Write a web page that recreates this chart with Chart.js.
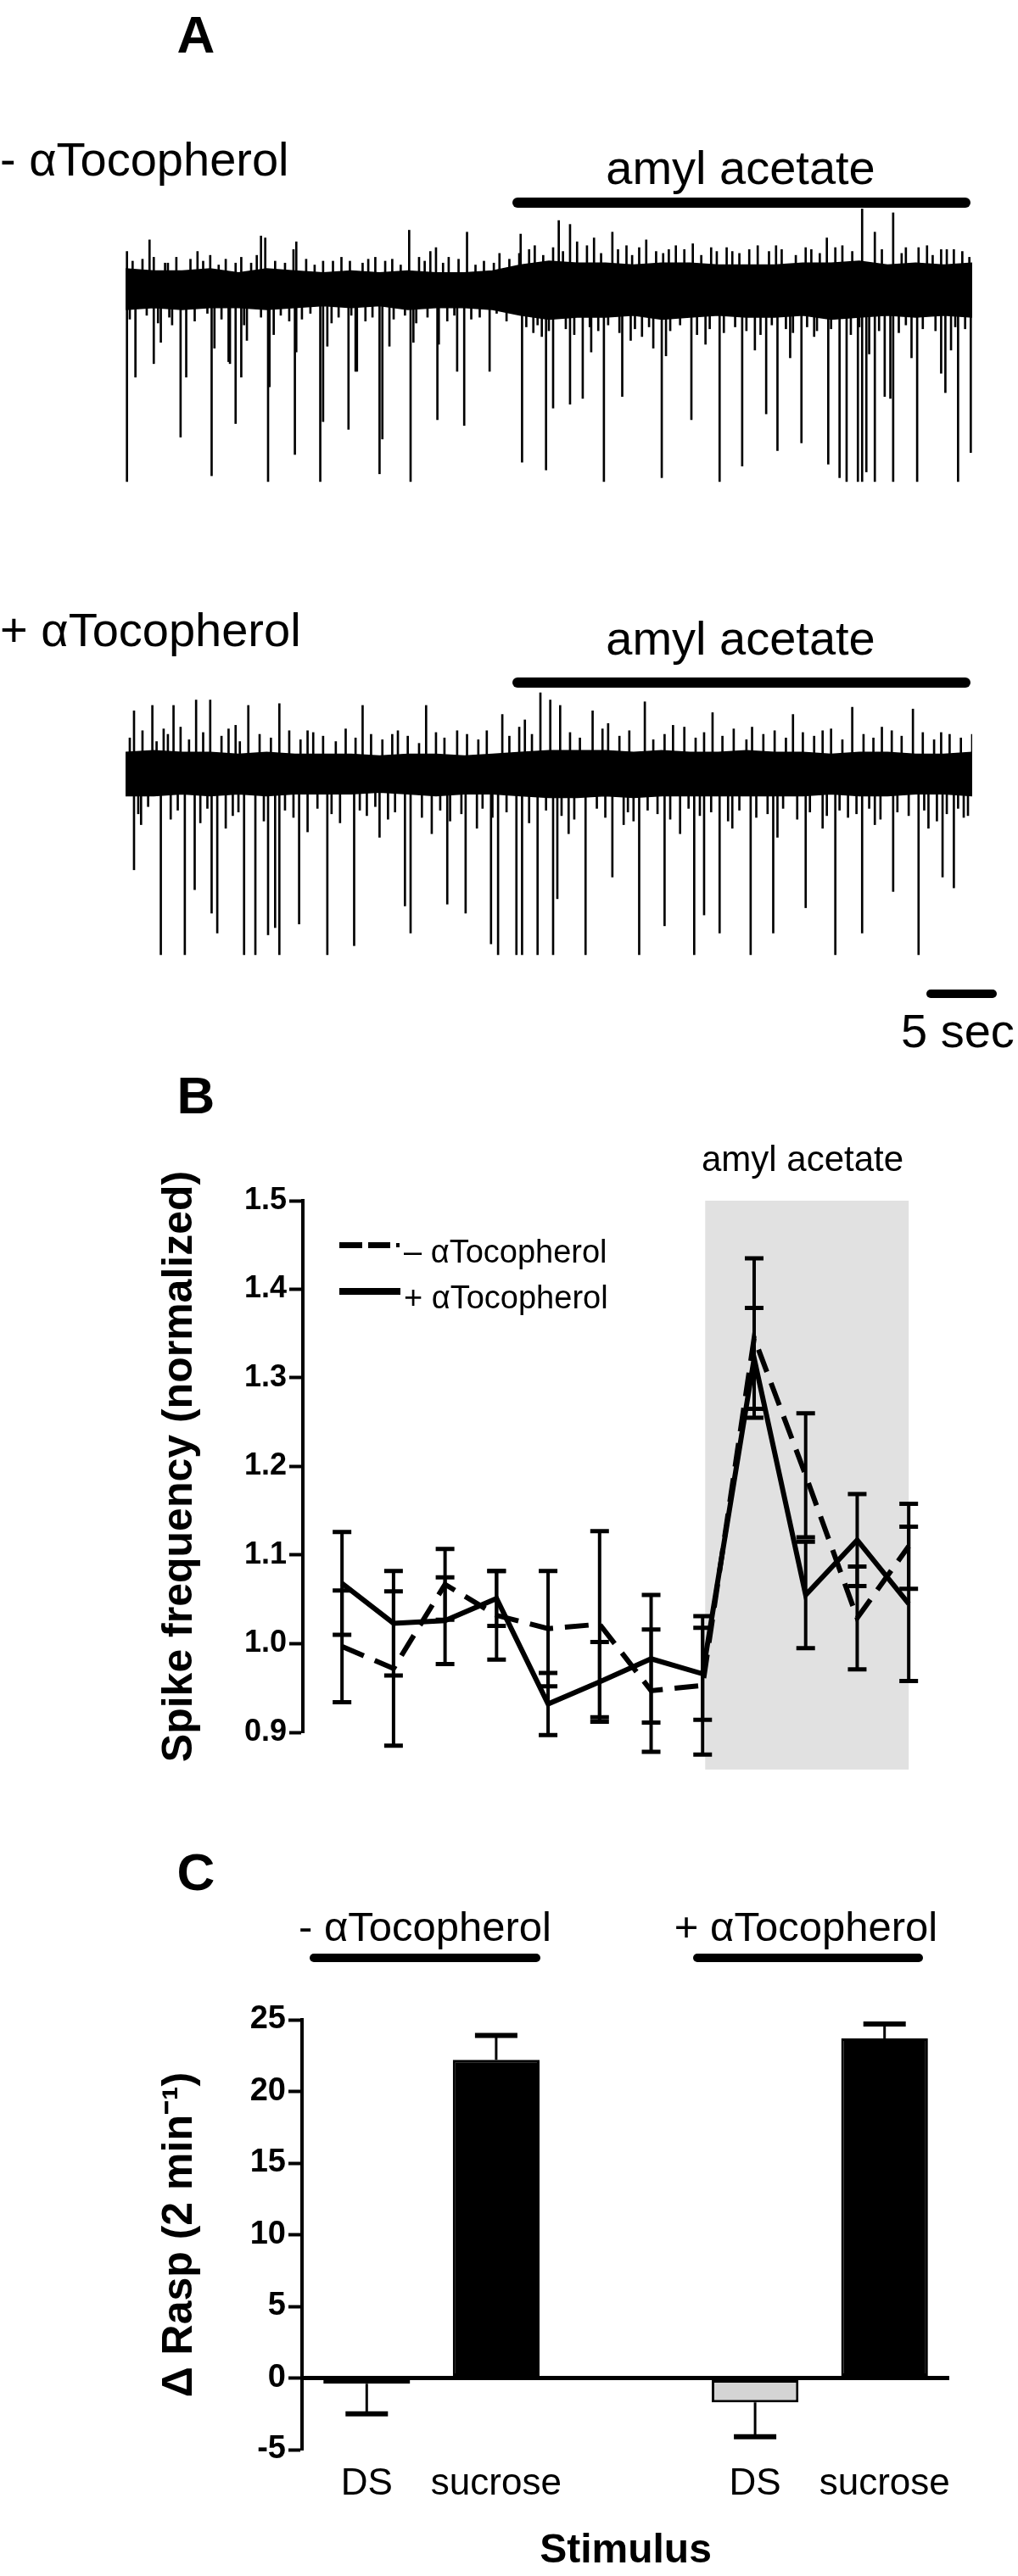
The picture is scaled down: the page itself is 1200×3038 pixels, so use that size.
<!DOCTYPE html>
<html>
<head>
<meta charset="utf-8">
<script src="https://cdn.jsdelivr.net/npm/chart.js@4.4.1/dist/chart.umd.min.js"></script>
<style>
    html, body { margin: 0; padding: 0; background: #fff; }
    body { width: 1200px; height: 3038px; position: relative; overflow: hidden;
           font-family: "Liberation Sans", Arial, Helvetica, sans-serif; color: #000; }
    .box { position: absolute; }
    .txt { position: absolute; white-space: nowrap; line-height: 1; }
    .c { transform: translate(-50%, -50%); }
    .l { transform: translateY(-50%); }
    .bar { position: absolute; background: #000; border-radius: 6px; }
    .letter { font-weight: bold; font-size: 62px; }
</style>
</head>
<body>

<div class="box" style="left:148px; top:230px; width:998px; height:350px;"><canvas id="trace1" width="998" height="350"></canvas></div>
<div class="box" style="left:148px; top:800px; width:998px; height:350px;"><canvas id="trace2" width="998" height="350"></canvas></div>
<div class="box" style="left:170px; top:1380px; width:940px; height:720px;"><canvas id="chartB" width="940" height="720"></canvas></div>
<div class="box" style="left:170px; top:2340px; width:970px; height:698px;"><canvas id="chartC" width="970" height="698"></canvas></div>

<!-- panel A -->
<div class="txt c letter" style="left:231px; top:41px;">A</div>
<div class="txt l" style="left:0px; top:188px; font-size:56px;">- αTocopherol</div>
<div class="txt c" style="left:873px; top:198px; font-size:56px;">amyl acetate</div>
<div class="bar" style="left:604px; top:233px; width:540px; height:12px;"></div>
<div class="txt l" style="left:0px; top:743px; font-size:56px;">+ αTocopherol</div>
<div class="txt c" style="left:873px; top:753px; font-size:56px;">amyl acetate</div>
<div class="bar" style="left:604px; top:799px; width:540px; height:12px;"></div>
<div class="bar" style="left:1092px; top:1167px; width:83px; height:10px;"></div>
<div class="txt l" style="left:1062px; top:1216px; font-size:56px;">5 sec</div>

<!-- panel B -->
<div class="txt c letter" style="left:231px; top:1292px;">B</div>
<div class="txt c" style="left:946px; top:1367px; font-size:42px;">amyl acetate</div>
<div class="box" style="left:400px; top:1465px; width:27px; height:7px; background:#000;"></div>
<div class="box" style="left:434px; top:1465px; width:26px; height:7px; background:#000;"></div>
<div class="box" style="left:467px; top:1466px; width:4px; height:5px; background:#000;"></div>
<div class="txt l" style="left:476px; top:1476px; font-size:38px;">– αTocopherol</div>
<div class="box" style="left:400px; top:1519px; width:72px; height:8px; background:#000;"></div>
<div class="txt l" style="left:476px; top:1530px; font-size:38px;">+ αTocopherol</div>

<!-- panel C -->
<div class="txt c letter" style="left:231px; top:2208px;">C</div>
<div class="txt c" style="left:501px; top:2272px; font-size:49px;">- αTocopherol</div>
<div class="bar" style="left:365px; top:2304px; width:272px; height:10px;"></div>
<div class="txt c" style="left:950px; top:2272px; font-size:49px;">+ αTocopherol</div>
<div class="bar" style="left:817px; top:2304px; width:271px; height:10px;"></div>

<script>
// ---------- Panel A: extracellular traces (time in s, amplitude relative to baseline) ----------
const envTimes = [0, 2, 4, 6, 8, 10, 12, 14, 16, 18, 20, 22, 24, 26, 28, 30, 32, 34, 36, 38, 40, 42, 44, 46, 48, 50, 52, 54, 56, 58, 60];

// - alpha-tocopherol trace
const upper1 = [10, 9, 9, 10, 8, 10, 9, 8, 9, 8, 9, 8, 8, 9, 12, 14, 13, 13, 12, 13, 13, 12, 12, 12, 13, 13, 14, 12, 13, 12, 13];
const lower1 = [-11, -10, -11, -10, -10, -11, -10, -9, -10, -9, -11, -10, -10, -11, -14, -16, -15, -15, -14, -16, -15, -14, -15, -15, -14, -16, -15, -14, -15, -14, -15];
const downT1 = [0.1, 0.7, 2.0, 3.9, 4.3, 6.1, 7.4, 7.8, 8.2, 10.1, 12.0, 13.8, 14.0, 15.8, 16.4, 18.0, 18.2, 20.2, 22.1, 24.0, 25.8, 28.1, 29.8, 30.3, 31.5, 32.4, 33.9, 35.2, 38.0, 40.1, 42.1, 43.7, 45.4, 46.2, 47.9, 49.8, 50.6, 51.1, 51.9, 52.2, 52.5, 53.1, 53.8, 54.2, 54.4, 56.1, 57.8, 58.1, 59.0, 59.9];
const downD1 = [100, 46, 39, 77, 46, 97, 39, 70, 46, 100, 86, 100, 69, 73, 43, 96, 78, 100, 68, 71, 43, 90, 94, 62, 60, 57, 100, 56, 98, 68, 100, 92, 65, 84, 80, 91, 98, 100, 100, 100, 95, 100, 56, 57, 100, 100, 44, 54, 100, 85];
const minorDownT1 = [2.5, 3.3, 6.3, 7.3, 8.6, 10.2, 10.5, 12.1, 14.3, 16.3, 18.7, 20.4, 22.2, 23.5, 29.5, 33.0, 35.8, 37.4, 38.3, 41.1, 44.6, 47.1, 48.8, 52.7, 55.7, 58.5];
const minorDownD1 = [28, 19, 31, 38, 27, 51, 24, 33, 30, 43, 30, 28, 29, 43, 25, 33, 27, 31, 35, 29, 32, 36, 25, 34, 36, 32];
const upT1 = [0.1, 1.7, 2.0, 3.0, 4.6, 5.1, 6.0, 7.8, 8.2, 9.6, 9.9, 11.9, 12.1, 14.0, 15.9, 17.7, 18.9, 20.1, 21.6, 22.0, 22.9, 24.2, 28.0, 30.7, 31.5, 33.2, 34.5, 36.9, 40.2, 49.7, 52.2, 53.1, 54.4, 57.8, 59.8];
const upH1 = [19, 25, 16, 13, 15, 19, 17, 13, 16, 27, 26, 20, 24, 14, 14, 16, 15, 30, 19, 21, 16, 29, 28, 35, 33, 26, 29, 25, 23, 26, 41, 29, 39, 20, 16];
const minorUpT1 = [26.5, 29.0, 32.0, 35.5, 38.5, 41.5, 43.0, 44.8, 46.5, 48.2, 50.8, 55.3, 56.8, 58.7];
const minorUpH1 = [18, 22, 24, 22, 20, 21, 19, 22, 20, 21, 22, 21, 22, 20];
const fuzzUpT1 = [0.5, 1.2, 2.8, 3.6, 5.5, 6.6, 7.1, 8.9, 9.3, 10.6, 11.3, 12.8, 13.4, 14.7, 15.3, 16.8, 17.2, 18.4, 19.5, 20.8, 21.2, 22.5, 23.6, 24.8, 25.4, 26.1, 27.2,
    27.9, 28.6, 29.6, 30.3, 31.0, 32.7, 33.7, 34.9, 35.9, 36.4, 37.6, 38.1, 39.0, 39.6, 40.8, 41.9, 42.6, 43.5, 44.2, 45.6, 46.1, 47.5, 48.6, 49.2, 50.3, 51.5, 53.6, 55.0, 56.2, 57.2, 58.2, 59.3];
const fuzzUpH1 = [14, 15, 13, 16, 14, 12, 15, 13, 17, 14, 13, 15, 12, 14, 16, 13, 15, 14, 12, 16, 14, 13, 15, 12, 14, 13, 15,
    18, 20, 17, 21, 19, 22, 18, 20, 17, 21, 19, 18, 22, 20, 17, 19, 21, 18, 20, 19, 22, 17, 20, 18, 21, 19, 20, 18, 21, 17, 20, 19];
const fuzzDownT1 = [0.3, 1.5, 2.3, 3.1, 4.9, 5.8, 6.8, 8.4, 9.6, 11.0, 11.6, 12.5, 13.1, 14.6, 15.1, 16.0, 17.0, 17.5, 19.0, 19.8, 20.6, 21.4, 22.8, 23.3, 24.5, 25.1, 26.3, 27.0,
    28.4, 28.9, 29.2, 30.0, 31.2, 31.8, 32.9, 33.5, 34.2, 35.0, 36.1, 36.6, 37.1, 38.6, 39.3, 40.5, 41.4, 42.4, 43.2, 44.0, 45.0, 45.8, 46.8, 47.3, 48.3, 49.0, 50.0, 51.4, 52.0, 53.4, 54.8, 55.3, 56.5, 57.4, 58.8, 59.5];
const fuzzDownD1 = [16, 14, 18, 15, 17, 13, 16, 19, 15, 14, 17, 16, 13, 18, 15, 14, 17, 15, 16, 14, 18, 15, 17, 14, 16, 15, 13, 17,
    20, 23, 19, 22, 21, 24, 20, 22, 19, 23, 21, 25, 20, 22, 19, 24, 21, 23, 20, 22, 24, 19, 21, 23, 20, 22, 21, 24, 20, 22, 23, 19, 21, 22, 20, 21];

// + alpha-tocopherol trace
const upper2 = [12, 13, 12, 12, 11, 12, 11, 11, 11, 10, 11, 11, 10, 11, 12, 13, 13, 13, 12, 13, 12, 12, 13, 12, 12, 11, 12, 12, 11, 11, 12];
const lower2 = [-12, -12, -11, -12, -11, -12, -11, -11, -11, -10, -11, -12, -11, -11, -12, -13, -13, -12, -13, -12, -12, -12, -12, -12, -12, -11, -12, -12, -11, -11, -12];
const downT2 = [0.6, 2.5, 4.2, 4.9, 6.1, 6.5, 8.4, 9.2, 10.1, 10.6, 10.9, 12.3, 14.3, 16.2, 19.8, 20.2, 22.8, 24.1, 25.9, 26.4, 27.7, 28.1, 29.2, 30.3, 30.6, 32.6, 34.5, 36.4, 38.2, 40.3, 41.0, 42.1, 44.3, 45.9, 48.2, 50.3, 52.2, 54.4, 56.2, 57.9, 58.7, 59.7];
const downD2 = [53, 100, 100, 64, 77, 88, 100, 100, 89, 85, 100, 83, 100, 95, 73, 88, 72, 77, 94, 100, 100, 100, 100, 100, 69, 100, 57, 100, 84, 100, 78, 88, 100, 88, 74, 100, 88, 65, 100, 57, 63, 23];
const minorDownT2 = [1.1, 7.1, 12.9, 18.0, 21.7, 24.9, 31.4, 35.3, 39.3, 43.0, 46.2, 49.4, 53.1, 56.9];
const minorDownD2 = [28, 30, 32, 35, 33, 30, 33, 28, 33, 30, 35, 30, 28, 30];
const upT2 = [0.6, 1.9, 3.4, 5.0, 6.0, 8.7, 10.9, 16.8, 21.3, 26.7, 29.4, 30.1, 30.8, 33.1, 36.8, 41.6, 47.3, 51.5, 55.8, 60.0];
const upH2 = [35, 38, 38, 41, 41, 38, 39, 38, 38, 33, 45, 41, 38, 35, 40, 34, 33, 37, 36, 22];
const minorUpT2 = [2.7, 7.8, 12.9, 18.9, 23.5, 28.3, 34.2, 38.8, 44.4, 49.4, 53.6, 57.8];
const minorUpH2 = [25, 27, 24, 22, 24, 30, 28, 27, 26, 24, 26, 23];
const fuzzUpT2 = [0.3, 1.2, 2.2, 3.0, 3.9, 4.5, 5.5, 6.8, 7.3, 8.1, 9.5, 10.3, 11.6, 12.4, 13.3, 14.0, 14.9, 15.6, 16.3, 17.4, 18.2, 19.3, 20.0, 20.8, 22.0, 22.6, 24.2, 25.0, 25.6, 27.2,
    27.9, 28.8, 31.5, 32.2, 33.8, 35.0, 35.7, 37.4, 38.2, 39.6, 40.4, 41.0, 42.3, 43.1, 44.0, 45.2, 46.0, 46.8, 48.0, 48.8, 50.0, 50.8, 52.3, 53.0, 54.3, 55.0, 56.5, 57.3, 58.4, 59.2];
const fuzzUpH2 = [20, 24, 18, 22, 26, 19, 23, 21, 25, 18, 22, 20, 24, 19, 23, 21, 18, 25, 20, 22, 19, 24, 21, 17, 23, 20, 22, 19, 24, 21,
    26, 22, 23, 20, 25, 21, 24, 19, 22, 26, 20, 23, 21, 25, 19, 22, 24, 20, 23, 21, 25, 19, 22, 20, 24, 21, 23, 19, 22, 20];
const fuzzDownT2 = [0.9, 1.6, 3.2, 3.7, 5.3, 5.8, 7.6, 8.0, 9.8, 11.3, 11.9, 13.6, 14.6, 15.2, 16.6, 17.1, 17.7, 18.6, 19.1, 21.0, 22.3, 23.0, 23.8, 25.3, 26.0, 27.0, 28.6, 29.8, 30.9, 31.8,
    33.4, 34.0, 35.6, 36.0, 37.0, 37.7, 38.6, 39.9, 40.7, 41.5, 42.7, 43.5, 44.7, 45.5, 46.6, 47.6, 48.5, 49.7, 50.6, 51.2, 51.8, 52.7, 53.5, 54.7, 55.5, 56.6, 57.5, 58.2, 59.0, 59.4];
const fuzzDownD2 = [22, 18, 25, 20, 27, 19, 23, 21, 26, 20, 24, 19, 22, 27, 20, 23, 18, 25, 21, 24, 20, 26, 22, 19, 24, 21, 27, 20, 23, 25,
    19, 24, 21, 26, 20, 22, 25, 19, 23, 21, 26, 20, 24, 22, 19, 25, 21, 23, 20, 24, 22, 19, 25, 21, 23, 20, 26, 22, 19, 24];

// ---------- Panel B: normalized spike frequency ----------
const binIndex = [0, 1, 2, 3, 4, 5, 6, 7, 8, 9, 10, 11];
const minusToco = [0.997, 0.972, 1.067, 1.032, 1.017, 1.022, 0.947, 0.953, 1.345, 1.190, 1.029, 1.110];
const minusErr = [0.063, 0.087, 0.040, 0.050, 0.065, 0.105, 0.069, 0.078, 0.090, 0.070, 0.058, 0.048];
const plusToco = [1.068, 1.023, 1.026, 1.051, 0.932, 0.957, 0.983, 0.966, 1.322, 1.055, 1.117, 1.045];
const plusErr = [0.058, 0.059, 0.049, 0.031, 0.035, 0.045, 0.072, 0.052, 0.057, 0.060, 0.052, 0.087];
const bTicks = [0.9, 1.0, 1.1, 1.2, 1.3, 1.4, 1.5];
const odorBins = [7.05, 11.0];     // amyl acetate period (bin index)
const odorSpan = [1.5, 0.858];     // shaded vertical extent

// ---------- Panel C: rasp response ----------
const stimLabels = ['DS', 'sucrose', '', 'DS', 'sucrose'];
const raspValues = [-0.4, 22.2, null, -1.7, 23.7];
const raspErr = [2.1, 1.7, null, 2.4, 1.0];
const raspColors = ['#d4d4d4', '#000000', '#ffffff', '#d4d4d4', '#000000'];
const cTicks = [-5, 0, 5, 10, 15, 20, 25];

Chart.defaults.font.family = '"Liberation Sans", Arial, Helvetica, sans-serif';
Chart.defaults.color = '#000';
Chart.defaults.animation = false;

// Turn time/size lists into floating bars (vertical spike lines)
function toSpikes(times, sizes, sign) {
    return times.map((t, i) => ({ x: t, y: [0, sign * sizes[i]] }));
}

// Create one recording trace
function createTraceChart(id, upper, lower, spikes, yMin, yMax) {
    const ctx = document.getElementById(id).getContext('2d');
    new Chart(ctx, {
        type: 'bar',
        data: {
            datasets: [
                {
                    type: 'line',
                    data: envTimes.map((t, i) => ({ x: t, y: upper[i] })),
                    borderColor: '#000',
                    backgroundColor: '#000',
                    borderWidth: 1.5,
                    pointRadius: 0,
                    tension: 0,
                    fill: '+1'
                },
                {
                    type: 'line',
                    data: envTimes.map((t, i) => ({ x: t, y: lower[i] })),
                    borderColor: '#000',
                    borderWidth: 1.5,
                    pointRadius: 0,
                    tension: 0,
                    fill: false
                },
                {
                    type: 'bar',
                    data: spikes,
                    backgroundColor: '#000',
                    barThickness: 2
                }
            ]
        },
        options: {
            responsive: false,
            layout: { padding: 0 },
            plugins: { legend: { display: false }, tooltip: { enabled: false } },
            scales: {
                x: { type: 'linear', min: 0, max: 60, offset: false, display: false },
                y: { min: yMin, max: yMax, display: false }
            }
        }
    });
}

createTraceChart('trace1', upper1, lower1,
    toSpikes(downT1, downD1, -1).concat(toSpikes(minorDownT1, minorDownD1, -1),
        toSpikes(fuzzDownT1, fuzzDownD1, -1), toSpikes(upT1, upH1, 1),
        toSpikes(minorUpT1, minorUpH1, 1), toSpikes(fuzzUpT1, fuzzUpH1, 1)),
    -105.3, 48.2);

createTraceChart('trace2', upper2, lower2,
    toSpikes(downT2, downD2, -1).concat(toSpikes(minorDownT2, minorDownD2, -1),
        toSpikes(fuzzDownT2, fuzzDownD2, -1), toSpikes(upT2, upH2, 1),
        toSpikes(minorUpT2, minorUpH2, 1), toSpikes(fuzzUpT2, fuzzUpH2, 1)),
    -111.3, 53);

// Shaded odor period behind panel B
const shadePlugin = {
    id: 'shade',
    beforeDatasetsDraw(chart) {
        const { ctx, scales: { x, y } } = chart;
        const x0 = x.getPixelForValue(odorBins[0]);
        const x1 = x.getPixelForValue(odorBins[1]);
        const y0 = y.getPixelForValue(odorSpan[0]);
        const y1 = y.getPixelForValue(odorSpan[1]);
        ctx.save();
        ctx.fillStyle = '#e1e1e1';
        ctx.fillRect(x0, y0, x1 - x0, y1 - y0);
        ctx.restore();
    }
};

// Error bars for panel B (both directions)
const lineErrorPlugin = {
    id: 'lineErrors',
    afterDatasetsDraw(chart) {
        const { ctx, scales: { x, y } } = chart;
        const series = [[minusToco, minusErr], [plusToco, plusErr]];
        ctx.save();
        ctx.strokeStyle = '#000';
        series.forEach(([vals, errs]) => {
            binIndex.forEach((b, i) => {
                const px = x.getPixelForValue(b);
                const top = y.getPixelForValue(vals[i] + errs[i]);
                const bot = y.getPixelForValue(vals[i] - errs[i]);
                ctx.lineWidth = 4;
                ctx.beginPath();
                ctx.moveTo(px, top);
                ctx.lineTo(px, bot);
                ctx.stroke();
                ctx.lineWidth = 5;
                ctx.beginPath();
                ctx.moveTo(px - 11, top);
                ctx.lineTo(px + 11, top);
                ctx.moveTo(px - 11, bot);
                ctx.lineTo(px + 11, bot);
                ctx.stroke();
            });
        });
        ctx.restore();
    }
};

new Chart(document.getElementById('chartB').getContext('2d'), {
    type: 'line',
    data: {
        datasets: [
            {
                label: '- αTocopherol',
                data: binIndex.map((b, i) => ({ x: b, y: minusToco[i] })),
                borderColor: '#000',
                borderWidth: 6,
                borderDash: [28, 14],
                pointRadius: 0,
                tension: 0,
                fill: false,
                clip: false
            },
            {
                label: '+ αTocopherol',
                data: binIndex.map((b, i) => ({ x: b, y: plusToco[i] })),
                borderColor: '#000',
                borderWidth: 6,
                pointRadius: 0,
                tension: 0,
                fill: false,
                clip: false
            }
        ]
    },
    options: {
        responsive: false,
        layout: { padding: { top: 36, bottom: 57, left: 0, right: 20 } },
        plugins: { legend: { display: false }, tooltip: { enabled: false } },
        scales: {
            x: { type: 'linear', min: -0.76, max: 11.31, display: false },
            y: {
                min: 0.9,
                max: 1.5,
                afterBuildTicks: s => { s.ticks = bTicks.map(v => ({ value: v })); },
                afterFit: s => { s.width = 187; },
                border: { display: true, color: '#000', width: 4 },
                grid: { display: true, drawOnChartArea: false, drawTicks: true, tickLength: 16, tickWidth: 4, tickColor: '#000' },
                ticks: { color: '#000', padding: 3, font: { size: 36, weight: 'bold' }, callback: v => v.toFixed(1) },
                title: {
                    display: true,
                    text: 'Spike frequency (normalized)',
                    color: '#000',
                    font: { size: 50, weight: 'bold' },
                    padding: { top: 12, bottom: 0 }
                }
            }
        }
    },
    plugins: [shadePlugin, lineErrorPlugin]
});

// One-sided error bars for panel C
const barErrorPlugin = {
    id: 'barErrors',
    afterDatasetsDraw(chart) {
        const { ctx, scales: { y } } = chart;
        const meta = chart.getDatasetMeta(0);
        ctx.save();
        ctx.strokeStyle = '#000';
        raspValues.forEach((v, i) => {
            if (v === null) return;
            const px = meta.data[i].x;
            const from = y.getPixelForValue(v);
            const to = y.getPixelForValue(v + Math.sign(v) * raspErr[i]);
            ctx.lineWidth = 3;
            ctx.beginPath();
            ctx.moveTo(px, from);
            ctx.lineTo(px, to);
            ctx.stroke();
            ctx.lineWidth = 6;
            ctx.beginPath();
            ctx.moveTo(px - 25, to);
            ctx.lineTo(px + 25, to);
            ctx.stroke();
        });
        ctx.restore();
    }
};

new Chart(document.getElementById('chartC').getContext('2d'), {
    type: 'bar',
    data: {
        labels: stimLabels,
        datasets: [
            {
                data: raspValues,
                backgroundColor: raspColors,
                borderColor: '#000',
                borderWidth: 3,
                borderSkipped: false,
                barPercentage: 0.67,
                categoryPercentage: 1
            }
        ]
    },
    options: {
        responsive: false,
        layout: { padding: { top: 42, bottom: 0, left: 0, right: 21 } },
        plugins: { legend: { display: false }, tooltip: { enabled: false } },
        scales: {
            x: {
                offset: true,
                afterFit: s => { s.height = 149; },
                border: { display: false },
                grid: { display: false, drawTicks: false },
                ticks: { color: '#000', padding: 14, font: { size: 44 }, autoSkip: false, maxRotation: 0, minRotation: 0 },
                title: {
                    display: true,
                    text: 'Stimulus',
                    color: '#000',
                    font: { size: 48, weight: 'bold' },
                    padding: { top: 0, bottom: 0 }
                }
            },
            y: {
                min: -5,
                max: 25,
                afterBuildTicks: s => { s.ticks = cTicks.map(v => ({ value: v })); },
                afterFit: s => { s.width = 186; },
                border: { display: true, color: '#000', width: 4 },
                grid: {
                    display: true,
                    drawOnChartArea: true,
                    drawTicks: true,
                    tickLength: 16,
                    tickWidth: 4,
                    tickColor: '#000',
                    color: c => (c.tick && c.tick.value === 0 ? '#000' : 'rgba(0,0,0,0)'),
                    lineWidth: c => (c.tick && c.tick.value === 0 ? 5 : 1)
                },
                ticks: { color: '#000', padding: 3, font: { size: 38, weight: 'bold' } },
                title: {
                    display: true,
                    text: 'Δ Rasp (2 min⁻¹)',
                    color: '#000',
                    font: { size: 50, weight: 'bold' },
                    padding: { top: 12, bottom: 0 }
                }
            }
        }
    },
    plugins: [barErrorPlugin]
});
</script>
</body>
</html>
